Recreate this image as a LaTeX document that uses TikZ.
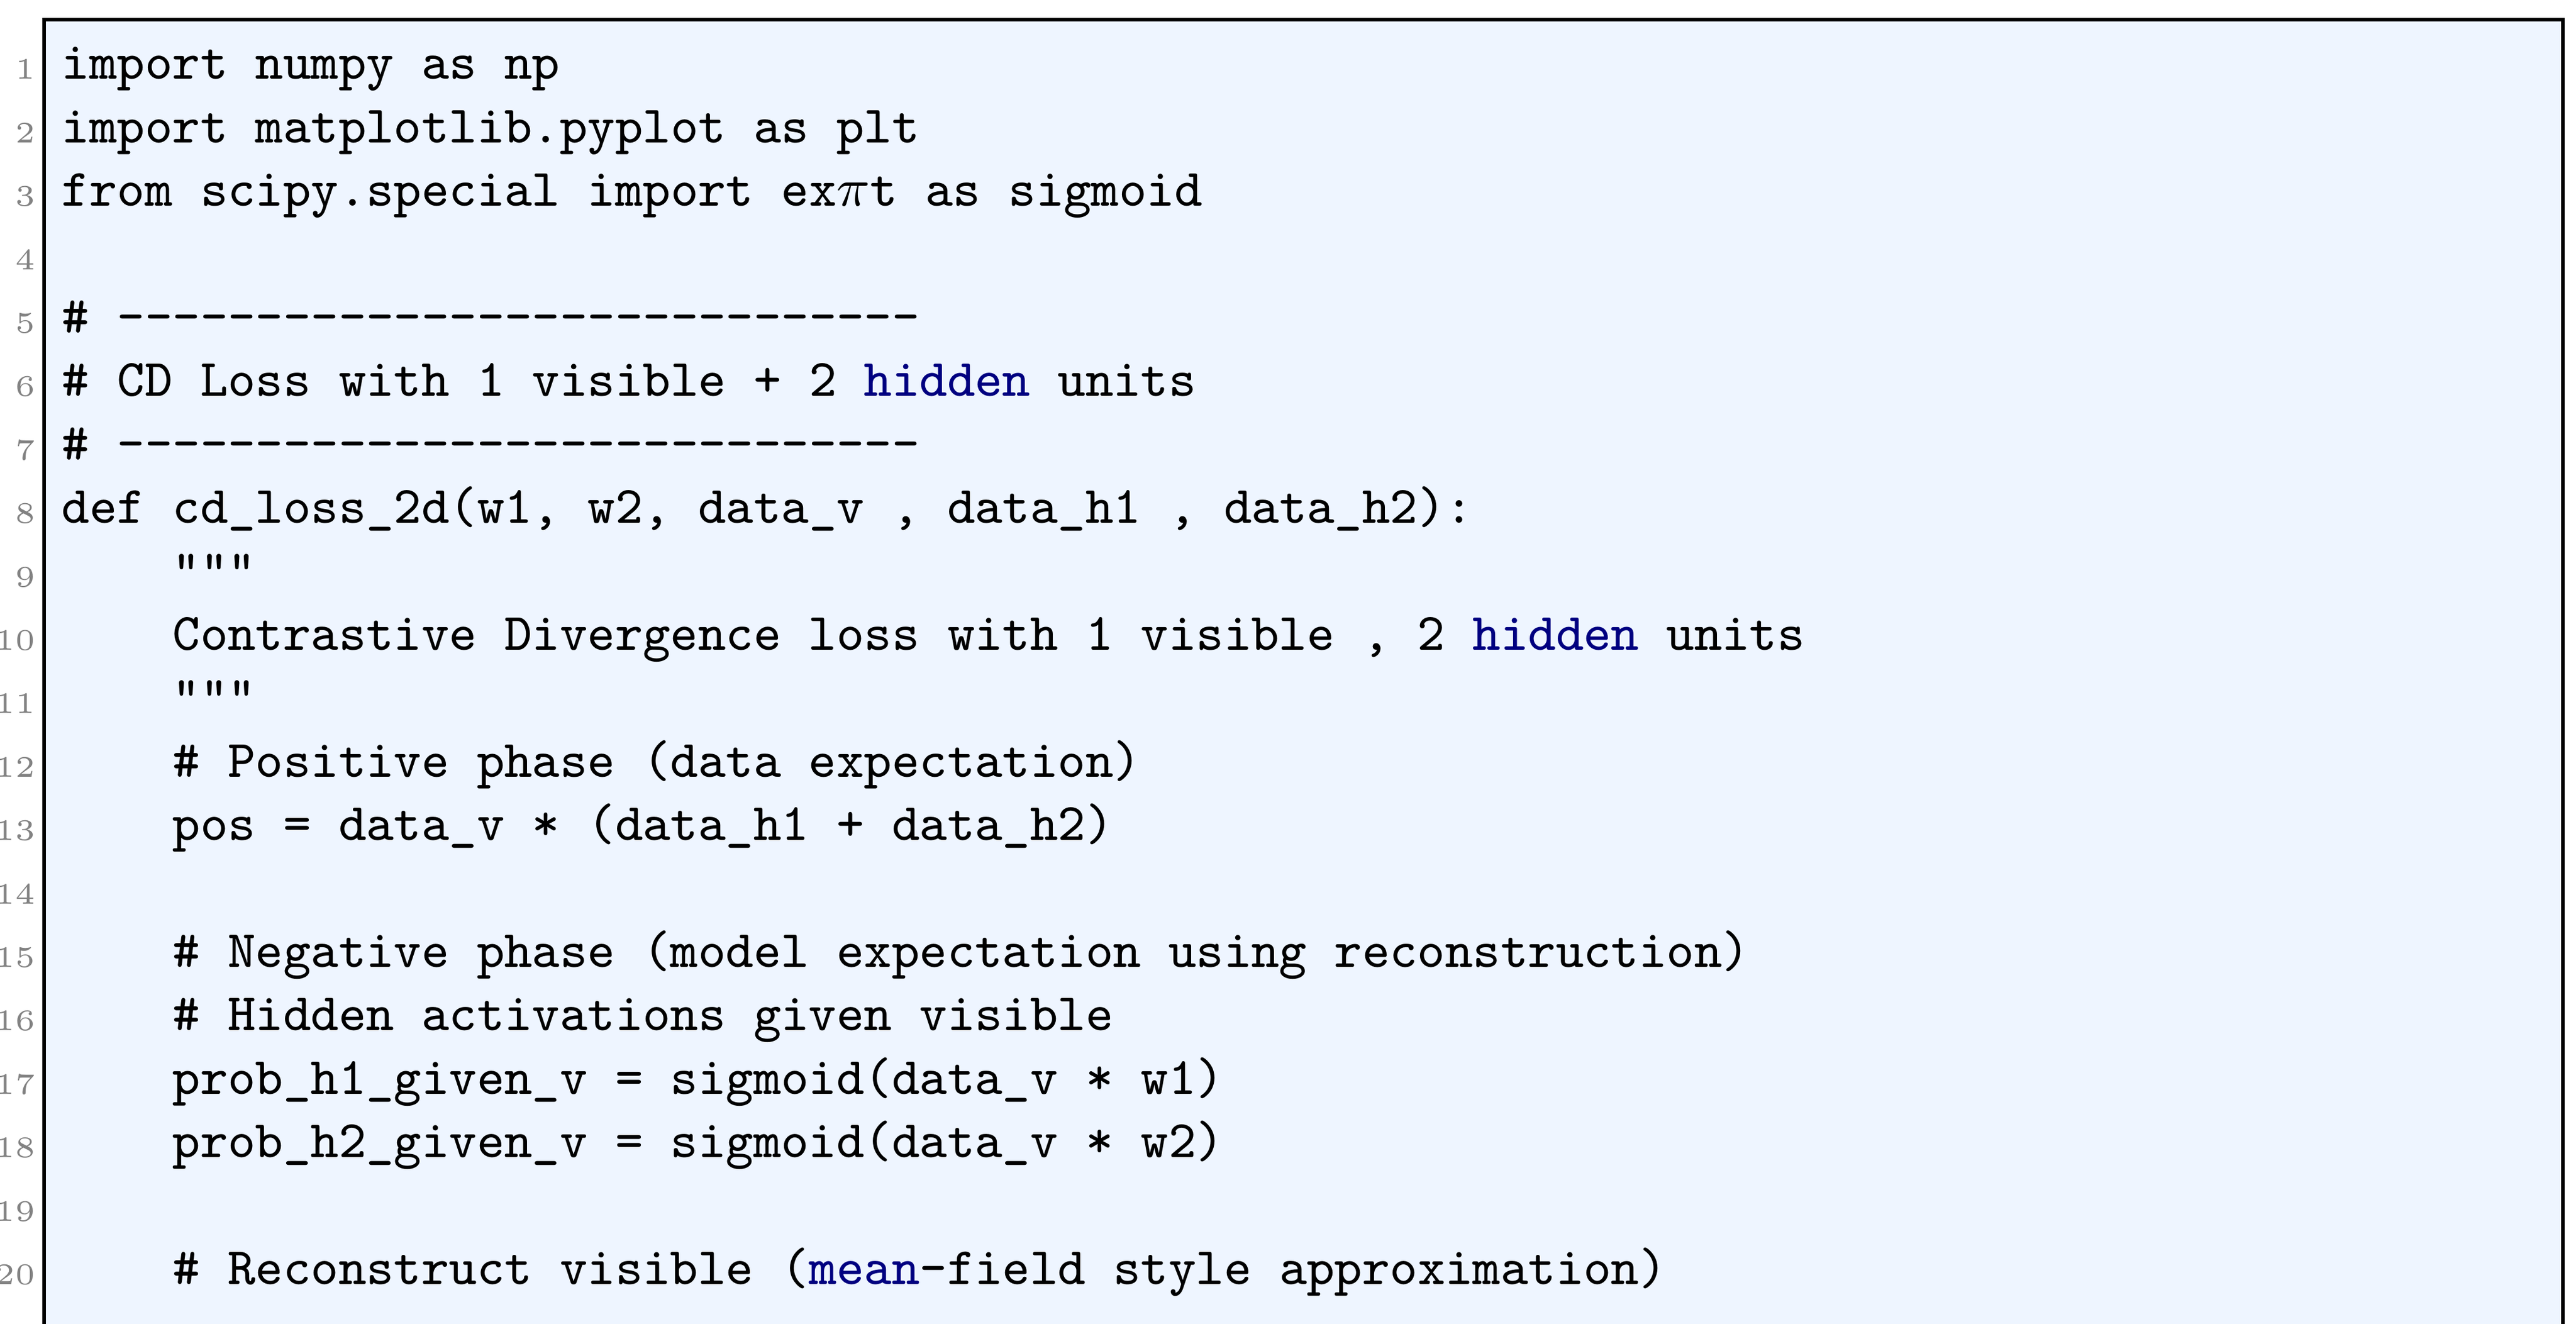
\documentclass[tikz,border=0pt]{standalone}
\definecolor{bgc}{RGB}{238,245,255}
\definecolor{kw}{RGB}{0,0,128}
\definecolor{numc}{RGB}{130,130,130}
\tikzset{
  code/.style={anchor=base west, inner sep=0pt, font=\fontsize{8.84}{10}\selectfont\ttfamily},
  num/.style={anchor=base east, inner sep=0pt, text=numc, font=\fontsize{5}{6}\selectfont}
}
\newcommand{\ind}{\phantom{xxxx}}
\begin{document}
\begin{tikzpicture}[x=1pt,y=1pt]
\useasboundingbox (0,0) rectangle (432.1,222.1);
\fill[bgc] (7.4,-2) rectangle (429.9,218.8);
\draw[line width=0.6pt] (7.4,-2) -- (7.4,218.8) -- (429.9,218.8) -- (429.9,-2);
\foreach \n/\t in {
1/{import numpy as np},
2/{import matplotlib.pyplot as plt},
3/{from scipy.special import ex$\pi$t as sigmoid},
4/{},
5/{\# -----------------------------},
6/{\# CD Loss with 1 visible + 2 \textcolor{kw}{hidden} units},
7/{\# -----------------------------},
8/{def cd\_loss\_2d(w1, w2, data\_v , data\_h1 , data\_h2):},
9/{\ind"""},
10/{\ind Contrastive Divergence loss with 1 visible , 2 \textcolor{kw}{hidden} units},
11/{\ind"""},
12/{\ind\# Positive phase (data expectation)},
13/{\ind pos = data\_v * (data\_h1 + data\_h2)},
14/{},
15/{\ind\# Negative phase (model expectation using reconstruction)},
16/{\ind\# Hidden activations given visible},
17/{\ind prob\_h1\_given\_v = sigmoid(data\_v * w1)},
18/{\ind prob\_h2\_given\_v = sigmoid(data\_v * w2)},
19/{},
20/{\ind\# Reconstruct visible (\textcolor{kw}{mean}-field style approximation)}}
{
  \pgfmathsetmacro{\yy}{222.1-13.3-(\n-1)*10.64}
  \node[num] (n\n) at (6.2,\yy) {\n};
  \node[code] (l\n) at (10.2,\yy) {\strut\t};
}
\end{tikzpicture}
\end{document}
